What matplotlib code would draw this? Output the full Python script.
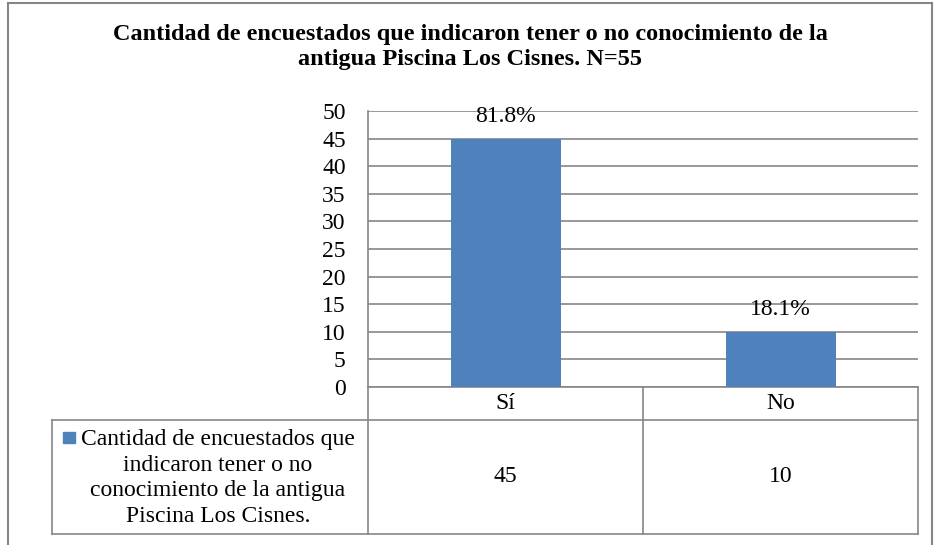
import matplotlib.pyplot as plt
from matplotlib.lines import Line2D
import matplotlib.transforms as mtransforms

categories = ['Sí', 'No']
values = [45, 10]
percent_labels = ['81.8%', '18.1%']
series_name = 'Cantidad de encuestados que\nindicaron tener o no\nconocimiento de la antigua\nPiscina Los Cisnes.'
title = ('Cantidad de encuestados que indicaron tener o no conocimiento de la\n'
         'antigua Piscina Los Cisnes. N=55')
yticks = list(range(0, 55, 5))

plt.rcParams['font.family'] = ['Liberation Serif', 'DejaVu Serif']

bar_color = '#4F81BD'
line_color = '#868686'
fs = 17

W, H = 936, 545
fig = plt.figure(figsize=(W / 100, H / 100), dpi=100)

def fx(px):
    return px / W

def fy(py):
    return 1 - py / H

# plot area
ax_l, ax_r, ax_t, ax_b = 368, 918, 111, 387
ax = fig.add_axes([fx(ax_l), fy(ax_b), fx(ax_r - ax_l), (ax_b - ax_t) / H])

x = list(range(len(categories)))
ax.bar(x, values, width=0.4, color=bar_color, zorder=3)
ax.set_xlim(-0.5, len(categories) - 0.5)
ax.set_ylim(0, 50)
ax.set_yticks(yticks)
ax.set_xticks([])
ax.tick_params(axis='y', length=0, pad=16, labelsize=fs)
ax.yaxis.grid(True, color=line_color, linewidth=1.2, zorder=0)
for s in ['top', 'right', 'bottom']:
    ax.spines[s].set_visible(False)
ax.spines['left'].set_color(line_color)
ax.spines['left'].set_linewidth(1.2)

for xi, v, lab in zip(x, values, percent_labels):
    ax.annotate(lab, xy=(xi, v), xytext=(0, 8.5), textcoords='offset points',
                ha='center', va='bottom', fontsize=fs, zorder=4)

# data table below the plot area (x in data units, y in axes units)
trans = mtransforms.blended_transform_factory(ax.transData, ax.transAxes)
ah = ax_b - ax_t
row1 = -(420 - ax_b) / ah
row2 = -(534 - ax_b) / ah
left_cell = -0.5 + (52 - ax_l) / ((ax_r - ax_l) / len(categories))

def tline(xs, ys):
    ax.add_line(Line2D(xs, ys, transform=trans, color=line_color,
                       linewidth=1.2, clip_on=False))

tline([-0.5, len(categories) - 0.5], [0, 0])
tline([left_cell, len(categories) - 0.5], [row1, row1])
tline([left_cell, len(categories) - 0.5], [row2, row2])
tline([left_cell, left_cell], [row1, row2])
for i in range(len(categories) + 1):
    tline([i - 0.5, i - 0.5], [0, row2])

for xi, cat, v in zip(x, categories, values):
    ax.text(xi, row1 / 2, cat, transform=trans, ha='center', va='center', fontsize=fs)
    ax.text(xi, (row1 + row2) / 2, str(v), transform=trans, ha='center', va='center',
            fontsize=fs)

# legend key and series name
fig.text(fx(218), fy(478), series_name, ha='center', va='center', fontsize=fs,
         linespacing=1.3)
fig.patches.append(plt.Rectangle((fx(63), fy(443)), fx(12), 11 / H, color=bar_color,
                                 transform=fig.transFigure))

# title
fig.text(fx(470), fy(47), title, ha='center', va='center', fontsize=17.5,
         fontweight='bold', linespacing=1.25)

# chart frame
for xs, ys in [([8, 932], [3, 3]), ([8, 8], [3, 545]), ([932, 932], [3, 545])]:
    fig.add_artist(Line2D([fx(v) for v in xs], [fy(v) for v in ys], color=line_color,
                          linewidth=1.5))

fig.savefig('out.png', dpi=100)
